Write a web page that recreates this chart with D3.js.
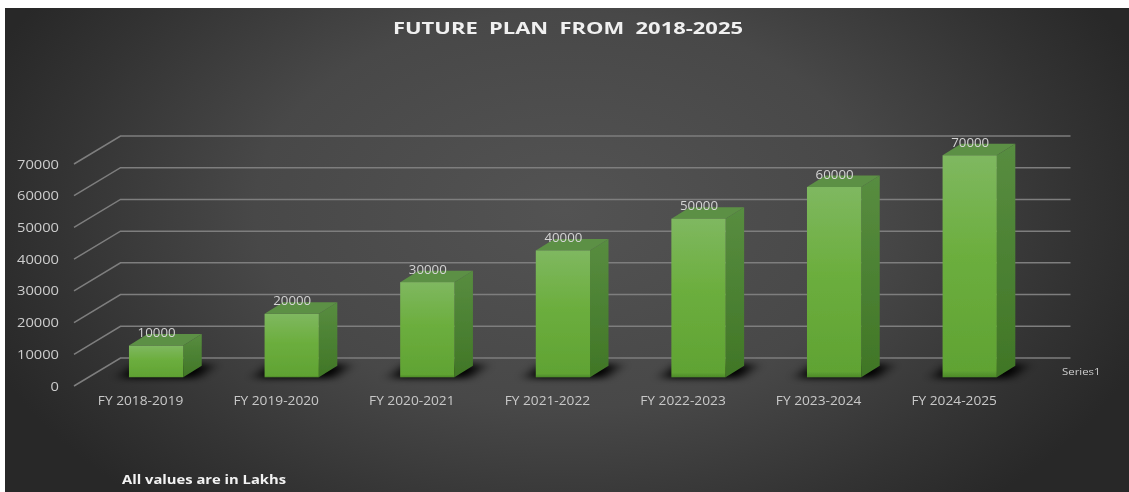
<!DOCTYPE html>
<html><head><meta charset="utf-8">
<script src="https://cdnjs.cloudflare.com/ajax/libs/d3/7.8.5/d3.min.js"></script>
<style>html,body{margin:0;padding:0;background:#fff;overflow:hidden}svg{display:block}text{font-family:"Open Sans",sans-serif}</style>
</head><body><svg id="c" width="1129" height="492"></svg>
<script>
const categories=["FY 2018-2019","FY 2019-2020","FY 2020-2021","FY 2021-2022","FY 2022-2023","FY 2023-2024","FY 2024-2025"];
const values=[10000,20000,30000,40000,50000,60000,70000];
const yTicks=[0,10000,20000,30000,40000,50000,60000,70000];
const seriesName="Series1";
const titleText="FUTURE PLAN FROM 2018-2025";
const noteText="All values are in Lakhs";

const svg=d3.select("#c");
const defs=svg.append("defs");
const bg=defs.append("radialGradient").attr("id","bg").attr("gradientUnits","userSpaceOnUse")
 .attr("cx",565).attr("cy",210).attr("r",620).attr("gradientTransform","translate(565 210) scale(1 .64) translate(-565 -210)");
[[0,"#535353"],[.5,"#484848"],[.82,"#333"],[1,"#282828"]].forEach(s=>bg.append("stop").attr("offset",s[0]).attr("stop-color",s[1]));
const mk=(id,stops)=>{const g=defs.append("linearGradient").attr("id",id).attr("x1",0).attr("y1",0).attr("x2",0).attr("y2",1);
 stops.forEach(s=>g.append("stop").attr("offset",s[0]).attr("stop-color",s[1]));};
mk("front",[[0,"#7fb860"],[.45,"#6cae3e"],[.97,"#60a333"],[1,"#4c8a28"]]);
mk("side",[[0,"#588d40"],[1,"#407626"]]);
defs.append("filter").attr("id","blur").attr("x","-60%").attr("y","-150%").attr("width","220%").attr("height","400%")
 .append("feGaussianBlur").attr("stdDeviation","7 3");
defs.append("filter").attr("id","soft").attr("filterUnits","userSpaceOnUse").attr("x",0).attr("y",0).attr("width",1129).attr("height",492)
 .append("feGaussianBlur").attr("stdDeviation",.4);

svg.append("rect").attr("x",5).attr("y",8).attr("width",1124).attr("height",484).attr("fill","url(#bg)");

const x=d3.scaleBand().domain(categories).range([88.3,1037.5]).paddingInner(.6).paddingOuter(.3);
const h=d3.scaleLinear().domain([0,70000]).range([0,222]);
const baseY=377.3;
const wall={x0:74,y0:386,x1:120.5,y1:358,x2:1070.5};
const bar={dx:18.5,dy:-11.5};

const grid=svg.append("g").attr("stroke","#7e7e7e").attr("stroke-width",1.5).attr("fill","none").attr("filter","url(#soft)");
grid.selectAll("path").data(yTicks).join("path")
 .attr("d",d=>`M${wall.x0},${wall.y0-h(d)}L${wall.x1},${wall.y1-h(d)}L${wall.x2},${wall.y1-h(d)}`);

const sh=svg.append("g");
sh.selectAll("path").data(categories).join("path")
 .attr("filter","url(#blur)").attr("fill","#050505")
 .attr("d",c=>{const a=x(c),w=x.bandwidth();
  return `M${a-10},${baseY+1}L${a+6},${baseY-13}L${a+w+30},${baseY-13}L${a+w+14},${baseY+1}Z`;});

const bars=svg.selectAll("g.bar").data(categories.map((c,i)=>({c,v:values[i]}))).join("g").attr("class","bar").attr("filter","url(#soft)");
bars.append("path").attr("fill","url(#side)").attr("d",d=>{const r=x(d.c)+x.bandwidth(),t=baseY-h(d.v);
 return `M${r},${baseY}L${r+bar.dx},${baseY+bar.dy}L${r+bar.dx},${t+bar.dy}L${r},${t}Z`;});
bars.append("path").attr("fill","#5c9045").attr("d",d=>{const l=x(d.c),r=l+x.bandwidth(),t=baseY-h(d.v);
 return `M${l},${t}L${l+bar.dx},${t+bar.dy}L${r+bar.dx},${t+bar.dy}L${r},${t}Z`;});
bars.append("rect").attr("fill","url(#front)").attr("x",d=>x(d.c)).attr("width",x.bandwidth())
 .attr("y",d=>baseY-h(d.v)).attr("height",d=>h(d.v));
bars.append("text").attr("x",d=>x(d.c)+x.bandwidth()/2+.5).attr("y",d=>baseY-h(d.v)-8.5)
 .attr("text-anchor","middle").attr("fill","#d4d4d4").attr("font-size",12.5)
 .attr("textLength",38).attr("lengthAdjust","spacingAndGlyphs").text(d=>d.v);

const lab=svg.append("g").attr("filter","url(#soft)");
lab.selectAll("text.y").data(yTicks).join("text").attr("class","y").attr("x",59).attr("y",d=>wall.y0-h(d)+4.5)
 .attr("text-anchor","end").attr("fill","#cccccc").attr("font-size",12.5)
 .attr("textLength",d=>String(d).length*8.4).attr("lengthAdjust","spacingAndGlyphs").text(d=>d);
lab.selectAll("text.c").data(categories).join("text").attr("class","c")
 .attr("x",c=>x(c)+x.bandwidth()/2-15.5).attr("y",404.5).attr("text-anchor","middle")
 .attr("fill","#c8c8c8").attr("font-size",12).attr("textLength",85.5).attr("lengthAdjust","spacingAndGlyphs").text(c=>c);
lab.append("text").attr("x",1062).attr("y",374.5).attr("fill","#cccccc").attr("font-size",9.5)
 .attr("textLength",38.5).attr("lengthAdjust","spacingAndGlyphs").text(seriesName);
lab.append("text").attr("x",568).attr("y",34).attr("text-anchor","middle").attr("fill","#f0f0f0")
 .attr("font-size",15.5).attr("font-weight",700).attr("word-spacing",4).attr("textLength",350).attr("lengthAdjust","spacingAndGlyphs").text(titleText);
lab.append("text").attr("x",122).attr("y",483.5).attr("fill","#f2f2f2").attr("font-size",12).attr("font-weight",700)
 .attr("textLength",164).attr("lengthAdjust","spacingAndGlyphs").text(noteText);
</script></body></html>
